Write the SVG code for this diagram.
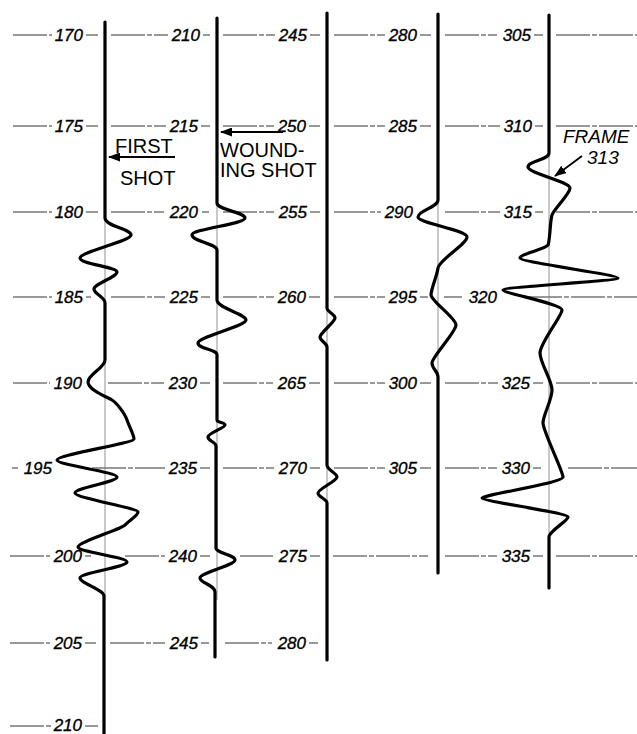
<svg xmlns="http://www.w3.org/2000/svg" width="637" height="734" viewBox="0 0 637 734">
<style>
.grid{stroke:#333;stroke-width:1;fill:none;stroke-dasharray:34 2 5 2}
.ref{stroke:#777;stroke-width:0.8;fill:none}
.trace{stroke:#000;stroke-width:3.2;fill:none;stroke-linejoin:round;stroke-linecap:round}
.num{font-family:"Liberation Sans",Arial,sans-serif;font-style:italic;font-size:17px;fill:#000;stroke:#000;stroke-width:0.35;text-anchor:end}
.note{font-family:"Liberation Sans",Arial,sans-serif;font-size:20px;fill:#000}
.frame{font-family:"Liberation Sans",Arial,sans-serif;font-style:italic;font-size:19px;fill:#000}
.arrow{stroke:#000;stroke-width:1.8;fill:none}
</style>
<defs>
<marker id="head" markerUnits="userSpaceOnUse" markerWidth="12" markerHeight="9" refX="11" refY="4.5" orient="auto">
<path d="M0,0 L12,4.5 L0,9 z" fill="#000"/>
</marker>
</defs>
<rect width="637" height="734" fill="#fff"/>
<g id="grid">
<path class="grid" d="M13,35H52 M86,35H98 M111,35H168 M203,35H210 M223,35H275 M310,35H320 M334,35H385 M420,35H431 M445,35H497 M534,35H543 M556,35H637"/>
<path class="grid" d="M13,126H52 M86,126H98 M111,126H166 M201,126H210 M223,126H274 M309,126H320 M334,126H385 M420,126H431 M445,126H500 M535,126H543 M556,126H637"/>
<path class="grid" d="M13,212H52 M86,212H98 M111,212H164 M202,212H209 M223,212H274 M310,212H320 M334,212H381 M445,212H500 M535,212H543 M556,212H637"/>
<path class="grid" d="M13,297H52 M86,297H91 M111,297H165 M201,297H210 M223,297H274 M309,297H320 M334,297H385 M420,297H428 M444,297H462 M528,297H637"/>
<path class="grid" d="M13,383H50 M108,383H164 M200,383H210 M223,383H273 M309,383H320 M334,383H385 M420,383H431 M445,383H498 M533,383H543 M556,383H637"/>
<path class="grid" d="M12,468H18 M92,468H165 M200,468H210 M223,468H274 M310,468H320 M334,468H385 M420,468H431 M445,468H497 M533,468H541 M568,468H637"/>
<path class="grid" d="M10,556H50 M85,556H91 M125,556H165 M200,556H210 M240,556H273 M310,556H320 M333,556H428 M445,556H497 M533,556H543 M556,556H637"/>
<path class="grid" d="M10,643H50 M85,643H96 M110,643H165 M201,643H209 M225,643H272 M309,643H318"/>
<path class="grid" d="M10,726H52 M85,726H98"/>
</g>
<g id="frame-labels">
<text class="num" x="83" y="41">170</text><text class="num" x="200" y="41">210</text><text class="num" x="307" y="41">245</text><text class="num" x="417" y="41">280</text><text class="num" x="531" y="41">305</text>
<text class="num" x="83" y="132">175</text><text class="num" x="198" y="132">215</text><text class="num" x="306" y="132">250</text><text class="num" x="417" y="132">285</text><text class="num" x="532" y="132">310</text>
<text class="num" x="83" y="218">180</text><text class="num" x="198" y="218">220</text><text class="num" x="307" y="218">255</text><text class="num" x="413" y="218">290</text><text class="num" x="532" y="218">315</text>
<text class="num" x="83" y="303">185</text><text class="num" x="198" y="303">225</text><text class="num" x="306" y="303">260</text><text class="num" x="417" y="303">295</text><text class="num" x="497" y="303">320</text>
<text class="num" x="82" y="389">190</text><text class="num" x="197" y="389">230</text><text class="num" x="306" y="389">265</text><text class="num" x="417" y="389">300</text><text class="num" x="530" y="389">325</text>
<text class="num" x="52" y="474">195</text><text class="num" x="197" y="474">235</text><text class="num" x="307" y="474">270</text><text class="num" x="417" y="474">305</text><text class="num" x="530" y="474">330</text>
<text class="num" x="82" y="562">200</text><text class="num" x="197" y="562">240</text><text class="num" x="307" y="562">275</text><text class="num" x="530" y="562">335</text>
<text class="num" x="82" y="649">205</text><text class="num" x="198" y="649">245</text><text class="num" x="306" y="649">280</text>
<text class="num" x="82" y="731" font-size="15">210</text>
</g>
<g id="reference-lines">
<path class="ref" d="M105,215V600 M217,200V600 M327,305V505 M438,198V380 M549,150V545"/>
</g>
<g id="trace-1">
<path class="trace" d="M105,22 V218 C105,226 131,229 131,235 S80,252 80,258 S117,267 117,272 S94,284 94,289 S105,297 105,303 V360 C105,368 88,374 88,382 S107,397 112,400 S125,414 127,420 S134,435 134,439 S57,455 57,460 S117,472 117,477 S75,488 75,493 S138,508 138,512 S128,521 125,525 S78,542 78,547 S127,557 127,562 S80,573 80,578 S104,590 104,596 V734"/>
</g>
<g id="trace-2">
<path class="trace" d="M217,18 V203 C217,210 245,212 245,218 S192,229 192,235 S217,244 217,250 V300 C217,308 246,314 246,320 S198,337 198,343 S217,349 217,355 V420 C217,423 225,422 225,425 S208,433 208,437 S216,442 216,446 V548 C216,553 235,555 235,560 S200,573 200,578 S215,585 215,592 V657"/>
</g>
<g id="trace-3">
<path class="trace" d="M327,13 V308 C327,312 335,314 335,318 S320,333 320,337 S327,343 327,347 V465 C327,470 337,473 337,477 S318,489 318,493 S327,499 327,503 V660"/>
</g>
<g id="trace-4">
<path class="trace" d="M438,14 V200 C438,207 418,211 418,217 S467,230 467,237 S439,260 438,268 S431,289 431,295 S456,318 456,325 S432,357 432,363 S438,371 438,377 V573"/>
</g>
<g id="trace-5">
<path class="trace" d="M549,15 V153 C549,160 528,161 528,167 S570,182 570,188 S554,209 552,215 S550,241 548,245 S520,254 520,258 S618,275 618,278 S503,287 503,290 S562,304 562,310 S540,343 540,353 S552,380 552,390 S543,415 543,423 S563,471 563,477 S482,495 482,498 S568,513 568,517 S549,531 549,537 V588"/>
</g>
<g id="note-first-shot">
<text class="note" x="115" y="153">FIRST</text>
<text class="note" x="120" y="185">SHOT</text>
</g>
<g id="note-wounding-shot">
<text class="note" x="220" y="157">WOUND-</text>
<text class="note" x="220" y="177">ING SHOT</text>
</g>
<g id="note-frame-313">
<text class="frame" x="563" y="143">FRAME</text>
<text class="frame" x="587" y="164">313</text>
</g>
<g id="connectors">
<path class="arrow" d="M175,157 H109" marker-end="url(#head)"/>
<path class="arrow" d="M283,132 H221" marker-end="url(#head)"/>
<path class="arrow" d="M582,156 L555,176" marker-end="url(#head)"/>
</g>
</svg>
